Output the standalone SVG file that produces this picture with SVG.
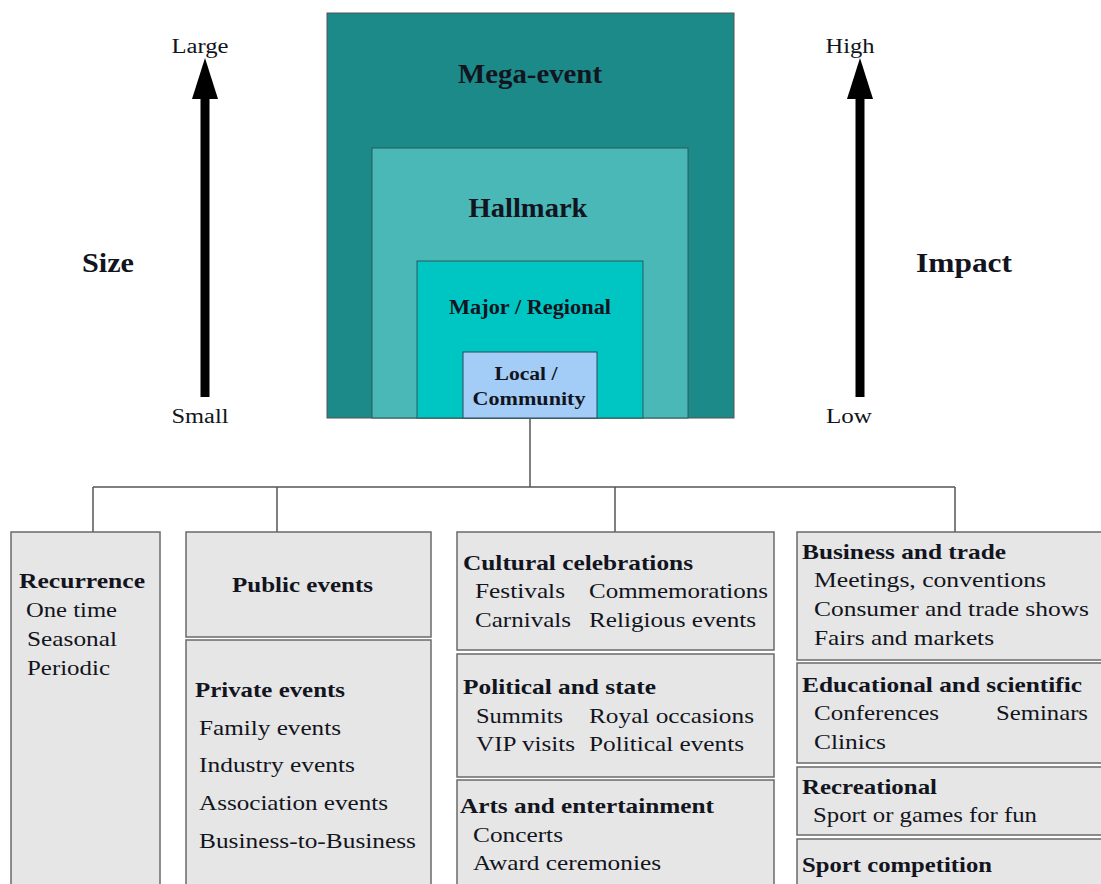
<svg xmlns="http://www.w3.org/2000/svg" width="1101" height="884" viewBox="0 0 1101 884" font-family="'Liberation Serif', 'Times New Roman', serif">
<style>
text{font-family:"Liberation Serif","Times New Roman",serif;fill:#121420}
.b{font-weight:bold}
.t{font-size:22px}
.box{fill:#e6e6e6;stroke:#6a6a6a;stroke-width:1.5}
.conn{fill:none;stroke:#555;stroke-width:1.5}
.ax{stroke:#000;stroke-width:9}
</style>
<defs>
<marker id="head" markerUnits="userSpaceOnUse" markerWidth="42" markerHeight="27" refX="0" refY="13" orient="auto">
<path d="M0,0 L41,13 L0,26 Z" fill="#000"/>
</marker>
</defs>
<rect width="1101" height="884" fill="#fff"/>

<g id="mega">
<rect x="327" y="13" width="407" height="405" fill="#1b8a88" stroke="#555" stroke-width="1"/>
<text class="b" x="530" y="83" font-size="28" text-anchor="middle" textLength="144" lengthAdjust="spacingAndGlyphs">Mega-event</text>
</g>
<g id="hallmark">
<rect x="372" y="148" width="316" height="270" fill="#49b8b6" stroke="#2a5a5a" stroke-width="1"/>
<text class="b" x="528" y="217" font-size="28" text-anchor="middle" textLength="119" lengthAdjust="spacingAndGlyphs">Hallmark</text>
</g>
<g id="major">
<rect x="417" y="261" width="226" height="157" fill="#00c6c3" stroke="#2a5a5a" stroke-width="1"/>
<text class="b" x="530" y="314" font-size="20" text-anchor="middle" textLength="162" lengthAdjust="spacingAndGlyphs">Major / Regional</text>
</g>
<g id="local">
<rect x="463" y="352" width="134" height="66" fill="#a3cdf7" stroke="#2a4a5a" stroke-width="1"/>
<text class="b" x="526" y="380" font-size="18" text-anchor="middle" textLength="63" lengthAdjust="spacingAndGlyphs">Local /</text>
<text class="b" x="529" y="405" font-size="18" text-anchor="middle" textLength="113" lengthAdjust="spacingAndGlyphs">Community</text>
</g>

<g id="size-axis">
<line class="ax" x1="205" y1="397" x2="205" y2="99" marker-end="url(#head)"/>
<text x="200" y="53" font-size="20" text-anchor="middle" textLength="57" lengthAdjust="spacingAndGlyphs">Large</text>
<text x="200" y="423" font-size="20" text-anchor="middle" textLength="57" lengthAdjust="spacingAndGlyphs">Small</text>
<text class="b" x="82" y="272" font-size="28" textLength="52" lengthAdjust="spacingAndGlyphs">Size</text>
</g>
<g id="impact-axis">
<line class="ax" x1="860" y1="397" x2="860" y2="99" marker-end="url(#head)"/>
<text x="850" y="53" font-size="20" text-anchor="middle" textLength="49" lengthAdjust="spacingAndGlyphs">High</text>
<text x="849" y="423" font-size="20" text-anchor="middle" textLength="46" lengthAdjust="spacingAndGlyphs">Low</text>
<text class="b" x="916" y="272" font-size="28" textLength="96" lengthAdjust="spacingAndGlyphs">Impact</text>
</g>

<g id="connectors">
<path class="conn" d="M530,418 V487 M93,487 H955 M93,487 V532 M277,487 V532 M615,487 V532 M955,487 V532"/>
</g>

<g id="recurrence">
<rect class="box" x="11" y="532" width="149" height="360"/>
<text class="t b" x="19" y="588" textLength="126" lengthAdjust="spacingAndGlyphs">Recurrence</text>
<text class="t" x="26" y="617" textLength="91" lengthAdjust="spacingAndGlyphs">One time</text>
<text class="t" x="27" y="646" textLength="90" lengthAdjust="spacingAndGlyphs">Seasonal</text>
<text class="t" x="27" y="675" textLength="83" lengthAdjust="spacingAndGlyphs">Periodic</text>
</g>

<g id="public">
<rect class="box" x="186" y="532" width="245" height="105"/>
<text class="t b" x="232" y="592" textLength="141" lengthAdjust="spacingAndGlyphs">Public events</text>
</g>
<g id="private">
<rect class="box" x="186" y="640" width="245" height="252"/>
<text class="t b" x="195" y="697" textLength="150" lengthAdjust="spacingAndGlyphs">Private events</text>
<text class="t" x="199" y="735" textLength="142" lengthAdjust="spacingAndGlyphs">Family events</text>
<text class="t" x="199" y="772" textLength="156" lengthAdjust="spacingAndGlyphs">Industry events</text>
<text class="t" x="199" y="810" textLength="189" lengthAdjust="spacingAndGlyphs">Association events</text>
<text class="t" x="199" y="848" textLength="217" lengthAdjust="spacingAndGlyphs">Business-to-Business</text>
</g>

<g id="cultural">
<rect class="box" x="457" y="532" width="317" height="118"/>
<text class="t b" x="463" y="570" textLength="230" lengthAdjust="spacingAndGlyphs">Cultural celebrations</text>
<text class="t" x="475" y="598" textLength="90" lengthAdjust="spacingAndGlyphs">Festivals</text>
<text class="t" x="589" y="598" textLength="179" lengthAdjust="spacingAndGlyphs">Commemorations</text>
<text class="t" x="475" y="627" textLength="96" lengthAdjust="spacingAndGlyphs">Carnivals</text>
<text class="t" x="589" y="627" textLength="167" lengthAdjust="spacingAndGlyphs">Religious events</text>
</g>
<g id="political">
<rect class="box" x="457" y="654" width="317" height="123"/>
<text class="t b" x="463" y="694" textLength="193" lengthAdjust="spacingAndGlyphs">Political and state</text>
<text class="t" x="476" y="723" textLength="87" lengthAdjust="spacingAndGlyphs">Summits</text>
<text class="t" x="589" y="723" textLength="165" lengthAdjust="spacingAndGlyphs">Royal occasions</text>
<text class="t" x="476" y="751" textLength="99" lengthAdjust="spacingAndGlyphs">VIP visits</text>
<text class="t" x="589" y="751" textLength="155" lengthAdjust="spacingAndGlyphs">Political events</text>
</g>
<g id="arts">
<rect class="box" x="457" y="780" width="317" height="112"/>
<text class="t b" x="460" y="813" textLength="254" lengthAdjust="spacingAndGlyphs">Arts and entertainment</text>
<text class="t" x="473" y="842" textLength="90" lengthAdjust="spacingAndGlyphs">Concerts</text>
<text class="t" x="473" y="870" textLength="188" lengthAdjust="spacingAndGlyphs">Award ceremonies</text>
</g>

<g id="business">
<rect class="box" x="797" y="532" width="310" height="128"/>
<text class="t b" x="802" y="559" textLength="204" lengthAdjust="spacingAndGlyphs">Business and trade</text>
<text class="t" x="814" y="587" textLength="232" lengthAdjust="spacingAndGlyphs">Meetings, conventions</text>
<text class="t" x="814" y="616" textLength="275" lengthAdjust="spacingAndGlyphs">Consumer and trade shows</text>
<text class="t" x="814" y="645" textLength="180" lengthAdjust="spacingAndGlyphs">Fairs and markets</text>
</g>
<g id="educational">
<rect class="box" x="797" y="663" width="310" height="100"/>
<text class="t b" x="802" y="692" textLength="280" lengthAdjust="spacingAndGlyphs">Educational and scientific</text>
<text class="t" x="814" y="720" textLength="125" lengthAdjust="spacingAndGlyphs">Conferences</text>
<text class="t" x="996" y="720" textLength="92" lengthAdjust="spacingAndGlyphs">Seminars</text>
<text class="t" x="814" y="749" textLength="72" lengthAdjust="spacingAndGlyphs">Clinics</text>
</g>
<g id="recreational">
<rect class="box" x="797" y="767" width="310" height="68"/>
<text class="t b" x="802" y="794" textLength="135" lengthAdjust="spacingAndGlyphs">Recreational</text>
<text class="t" x="813" y="822" textLength="224" lengthAdjust="spacingAndGlyphs">Sport or games for fun</text>
</g>
<g id="sport">
<rect class="box" x="797" y="839" width="310" height="60"/>
<text class="t b" x="802" y="872" textLength="190" lengthAdjust="spacingAndGlyphs">Sport competition</text>
</g>
</svg>
